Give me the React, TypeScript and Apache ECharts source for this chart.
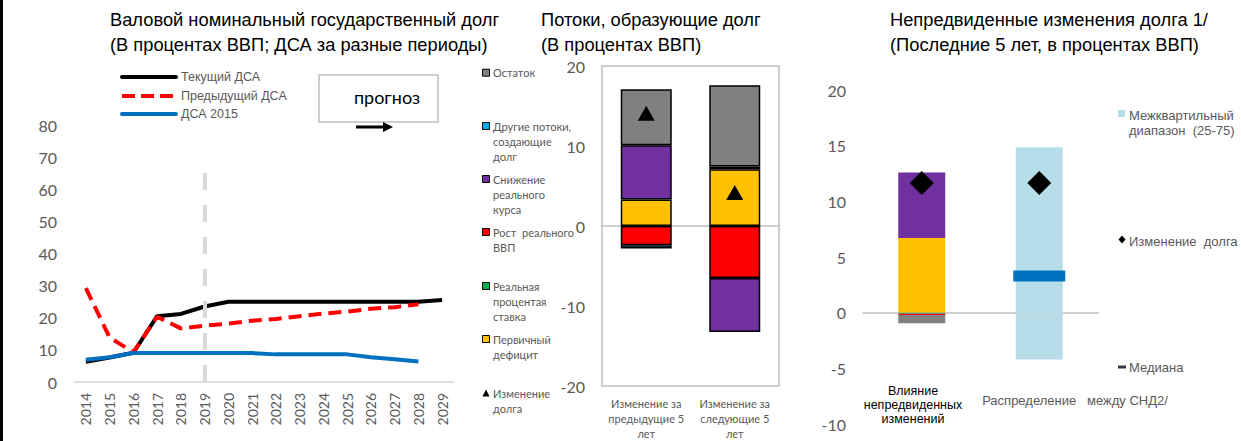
import React, { useEffect, useRef } from "react";
import * as echarts from "echarts";

// ---------- Panel 1 data ----------
const years = ["2014", "2015", "2016", "2017", "2018", "2019", "2020", "2021", "2022", "2023", "2024", "2025", "2026", "2027", "2028", "2029"];
const currentDSA = [6.3, 7.6, 9.1, 20.5, 21.2, 23.5, 25, 25, 25, 25, 25, 25, 25, 25, 25, 25.5];
const previousDSA: (number | null)[] = [29.2, 13.8, 9.3, 20.3, 16.7, 17.5, 18.2, 19.1, 19.6, 20.5, 21.3, 21.9, 22.8, 23.3, 24.2, null];
const dsa2015: (number | null)[] = [6.9, 7.7, 9, 9, 9, 9, 9, 9, 8.6, 8.6, 8.6, 8.6, 7.7, 7.1, 6.4, null];
const lineNames = ["Текущий ДСА", "Предыдущий ДСА", "ДСА 2015"];
const forecastYear = "2019";
const forecastLabel = "прогноз";

// ---------- Panel 2 data ----------
const flowCats = ["Изменение за\nпредыдущие 5\nлет", "Изменение за\nследующие 5\nлет"];
const primaryDeficit = [3.3, 7.1];
const realInterest = ["-", 0.35];
const realGrowth = [-2.4, -6.5];
const realExchange = [6.8, -6.75];
const otherFlows = [-0.4, "-"];
const residual = [7.0, 10.15];
const debtChange = [14.1, 4.2];
const flowLegend = [
  { name: "Остаток", color: "#808080", lines: ["Остаток"] },
  { name: "Другие потоки", color: "#00b0f0", lines: ["Другие потоки,", "создающие", "долг"] },
  { name: "Снижение реального курса", color: "#7030a0", lines: ["Снижение", "реального", "курса"] },
  { name: "Рост реального ВВП", color: "#ff0000", lines: ["Рост  реального", "ВВП"] },
  { name: "Реальная процентая ставка", color: "#00b050", lines: ["Реальная", "процентая", "ставка"] },
  { name: "Первичный дефицит", color: "#ffc000", lines: ["Первичный", "дефицит"] },
  { name: "Изменение долга", color: "#000000", lines: ["Изменение", "долга"] },
];

// ---------- Panel 3 data ----------
const shockCats = ["Влияние\nнепредвиденных\nизменений", "Распределение   между СНД2/"];
const shockPrimary = [6.7, "-"];
const shockExchange = [5.9, "-"];
const shockInterest = [-0.1, "-"];
const shockGrowth = [-0.12, "-"];
const shockResidual = [-0.72, "-"];
const iqrHigh = ["-", 14.85];
const iqrLow = ["-", -4.2];
const median = ["-", 3.3];
const shockDebtChange = [11.65, 11.65];
const shockLegend = ["Межквартильный\nдиапазон  (25-75)", "Изменение  долга", "Медиана"];

const titles = [
  { x: 110, l1: "Валовой номинальный государственный долг", l2: "(В процентах ВВП; ДСА за разные периоды)" },
  { x: 541, l1: "Потоки, образующие долг", l2: "(В процентах ВВП)" },
  { x: 890, l1: "Непредвиденные изменения долга 1/", l2: "(Последние 5 лет, в процентах ВВП)" },
];

const SANS = "Lato, 'Noto Sans', sans-serif";
const ARIAL = "'Liberation Sans', Arial, sans-serif";
const GREY = "#595959";

export default function App() {
  const ref = useRef<HTMLDivElement>(null);
  useEffect(() => {
    document.body.style.margin = "0";
    if (!ref.current) return;
    const chart = echarts.init(ref.current, undefined, { renderer: "svg" });

    const graphic: any[] = [];
    graphic.push({ type: "rect", shape: { x: 0, y: 0, width: 3, height: 441 }, style: { fill: "#000" } });
    titles.forEach((t) => {
      graphic.push({ type: "text", style: { text: t.l1, x: t.x, y: 19, fontSize: 18.3, fontFamily: ARIAL, fill: "#000", textVerticalAlign: "middle" } });
      graphic.push({ type: "text", style: { text: t.l2, x: t.x, y: 44, fontSize: 18.3, fontFamily: ARIAL, fill: "#000", textVerticalAlign: "middle" } });
    });
    // Panel 1 legend
    const legY = [77, 96, 114];
    const legStyles = [
      { stroke: "#000", lineWidth: 4 },
      { stroke: "#ff0000", lineWidth: 4, lineDash: [13, 6] },
      { stroke: "#0070c0", lineWidth: 4 },
    ];
    lineNames.forEach((n, i) => {
      graphic.push({ type: "line", shape: { x1: 122, y1: legY[i], x2: 176, y2: legY[i] }, style: { ...legStyles[i], lineCap: i === 1 ? "butt" : "round" } });
      graphic.push({ type: "text", style: { text: n, x: 181, y: legY[i], fontSize: 12.5, fontFamily: ARIAL, fill: GREY, textVerticalAlign: "middle" } });
    });
    // forecast box + arrow
    graphic.push({ type: "rect", shape: { x: 319, y: 75, width: 119, height: 47 }, style: { fill: "#fff", stroke: "#bfbfbf", lineWidth: 1.5 } });
    graphic.push({ type: "text", style: { text: forecastLabel, x: 387, y: 97, fontSize: 18, fontFamily: SANS, fill: "#000", textAlign: "center", textVerticalAlign: "middle" } });
    graphic.push({ type: "line", shape: { x1: 356, y1: 127, x2: 385, y2: 127 }, style: { stroke: "#000", lineWidth: 3 } });
    graphic.push({ type: "polygon", shape: { points: [[383, 122], [393, 127], [383, 132]] }, style: { fill: "#000" } });

    // Panel 2 legend
    const flowLegY = [72.7, 126, 179, 232, 286, 339, 393];
    flowLegend.forEach((it, i) => {
      const y = flowLegY[i];
      if (i === flowLegend.length - 1) {
        graphic.push({ type: "polygon", shape: { points: [[482.5, y + 3.5], [486, y - 3.5], [489.5, y + 3.5]] }, style: { fill: "#000" } });
      } else {
        graphic.push({ type: "rect", shape: { x: 482.5, y: y - 3.5, width: 7, height: 7 }, style: { fill: it.color, stroke: "#000", lineWidth: 1 } });
      }
      it.lines.forEach((ln, k) => {
        graphic.push({ type: "text", style: { text: ln, x: 493, y: y + k * 15, fontSize: 11, fontFamily: SANS, fill: GREY, textVerticalAlign: "middle" } });
      });
    });

    // Panel 3 legend
    graphic.push({ type: "rect", shape: { x: 1118, y: 110, width: 7, height: 7 }, style: { fill: "#b7dee8" } });
    shockLegend[0].split("\n").forEach((ln, k) => {
      graphic.push({ type: "text", style: { text: ln, x: 1129, y: 115 + k * 15, fontSize: 13, fontFamily: ARIAL, fill: GREY, textVerticalAlign: "middle" } });
    });
    graphic.push({ type: "polygon", shape: { points: [[1122, 235.5], [1125.5, 239.5], [1122, 243.5], [1118.5, 239.5]] }, style: { fill: "#000" } });
    graphic.push({ type: "text", style: { text: shockLegend[1], x: 1129, y: 241.7, fontSize: 13, fontFamily: ARIAL, fill: GREY, textVerticalAlign: "middle" } });
    graphic.push({ type: "rect", shape: { x: 1118, y: 365.5, width: 8, height: 3 }, style: { fill: "#403151" } });
    graphic.push({ type: "text", style: { text: shockLegend[2], x: 1129, y: 367, fontSize: 13, fontFamily: ARIAL, fill: GREY, textVerticalAlign: "middle" } });

    // Panel 3 category labels
    shockCats[0].split("\n").forEach((ln, k) => {
      graphic.push({ type: "text", style: { text: ln, x: 913, y: 391 + k * 14, fontSize: 12.5, fontFamily: ARIAL, fill: "#000", textAlign: "center", textVerticalAlign: "middle" } });
    });
    graphic.push({ type: "text", style: { text: shockCats[1], x: 1075, y: 400, fontSize: 13, fontFamily: ARIAL, fill: GREY, textAlign: "center", textVerticalAlign: "middle" } });

    const yLabel = { fontSize: 16, fontFamily: SANS, color: GREY, margin: 17 };
    const bar2 = (name: string, data: any[], color: string) => ({
      name, type: "bar", stack: "flows", xAxisIndex: 1, yAxisIndex: 1, barWidth: 51, data,
      itemStyle: { color, borderColor: "#000", borderWidth: 1.5 },
    });
    const bar3 = (name: string, data: any[], color: string) => ({
      name, type: "bar", stack: "shock", xAxisIndex: 2, yAxisIndex: 2, barWidth: 47, data,
      itemStyle: { color },
    });

    chart.setOption({
      animation: false,
      backgroundColor: "#fff",
      graphic,
      grid: [
        { left: 74, top: 125, width: 380, height: 257 },
        { left: 602, top: 66, width: 177, height: 324, show: true, borderColor: "#bfbfbf", borderWidth: 1.5 },
        { left: 863, top: 90, width: 235, height: 334 },
      ],
      xAxis: [
        {
          type: "category", gridIndex: 0, data: years, boundaryGap: true,
          axisLine: { lineStyle: { color: "#d9d9d9", width: 1.5 } }, axisTick: { show: false },
          axisLabel: { rotate: 90, interval: 0, fontSize: 14, fontFamily: SANS, color: GREY, margin: 11 },
        },
        {
          type: "category", gridIndex: 1, data: flowCats,
          axisLine: { onZero: true, lineStyle: { color: "#bfbfbf", width: 1.5 } }, axisTick: { show: false },
          axisLabel: { interval: 0, fontSize: 11, fontFamily: SANS, color: GREY, lineHeight: 15, margin: 10 },
        },
        {
          type: "category", gridIndex: 2, data: shockCats,
          axisLine: { onZero: true, lineStyle: { color: "#bfbfbf", width: 1.5 } }, axisTick: { show: false },
          axisLabel: { show: false },
        },
      ],
      yAxis: [
        { type: "value", gridIndex: 0, min: 0, max: 80, interval: 10, splitLine: { show: false }, axisLine: { show: false }, axisLabel: yLabel },
        { type: "value", gridIndex: 1, min: -20, max: 20, interval: 10, splitLine: { show: false }, axisLine: { show: false }, axisLabel: yLabel },
        { type: "value", gridIndex: 2, min: -10, max: 20, interval: 5, splitLine: { show: false }, axisLine: { show: false }, axisLabel: yLabel },
      ],
      series: [
        {
          name: lineNames[0], type: "line", data: currentDSA, xAxisIndex: 0, yAxisIndex: 0, showSymbol: false,
          lineStyle: { color: "#000", width: 4 }, z: 2,
          markLine: {
            silent: true, symbol: "none", label: { show: false },
            lineStyle: { color: "#d9d9d9", width: 4, type: [17, 15] },
            data: [[{ coord: [forecastYear, 0] }, { coord: [forecastYear, 66] }]],
          },
        },
        {
          name: lineNames[1], type: "line", data: previousDSA, xAxisIndex: 0, yAxisIndex: 0, showSymbol: false,
          lineStyle: { color: "#ff0000", width: 4, type: [13, 7] }, z: 3,
        },
        {
          name: lineNames[2], type: "line", data: dsa2015, xAxisIndex: 0, yAxisIndex: 0, showSymbol: false,
          lineStyle: { color: "#0070c0", width: 4 }, z: 3,
        },
        bar2(flowLegend[5].name, primaryDeficit, "#ffc000"),
        bar2(flowLegend[4].name, realInterest, "#00b050"),
        bar2(flowLegend[3].name, realGrowth, "#ff0000"),
        bar2(flowLegend[2].name, realExchange, "#7030a0"),
        bar2(flowLegend[1].name, otherFlows, "#00b0f0"),
        bar2(flowLegend[0].name, residual, "#808080"),
        {
          name: flowLegend[6].name, type: "scatter", xAxisIndex: 1, yAxisIndex: 1, data: debtChange,
          symbol: "triangle", symbolSize: [17, 15], itemStyle: { color: "#000", opacity: 1 }, z: 5,
        },
        bar3("Первичный дефицит", shockPrimary, "#ffc000"),
        bar3("Снижение реального курса", shockExchange, "#7030a0"),
        bar3("Реальная процентая ставка", shockInterest, "#00b08a"),
        bar3("Рост реального ВВП", shockGrowth, "#ff0000"),
        bar3("Остаток", shockResidual, "#808080"),
        bar3("IQR+", iqrHigh, "#b7dee8"),
        bar3("IQR-", iqrLow, "#b7dee8"),
        {
          name: "Медиана", type: "scatter", xAxisIndex: 2, yAxisIndex: 2, data: median,
          symbol: "rect", symbolSize: [52, 11], itemStyle: { color: "#0070c0", opacity: 1 }, z: 4,
        },
        {
          name: "Изменение долга (3)", type: "scatter", xAxisIndex: 2, yAxisIndex: 2, data: shockDebtChange,
          symbol: "diamond", symbolSize: [24, 24], itemStyle: { color: "#000", opacity: 1 }, z: 5,
        },
      ],
    });
    return () => chart.dispose();
  }, []);
  return <div ref={ref} style={{ width: 1241, height: 441 }} />;
}
